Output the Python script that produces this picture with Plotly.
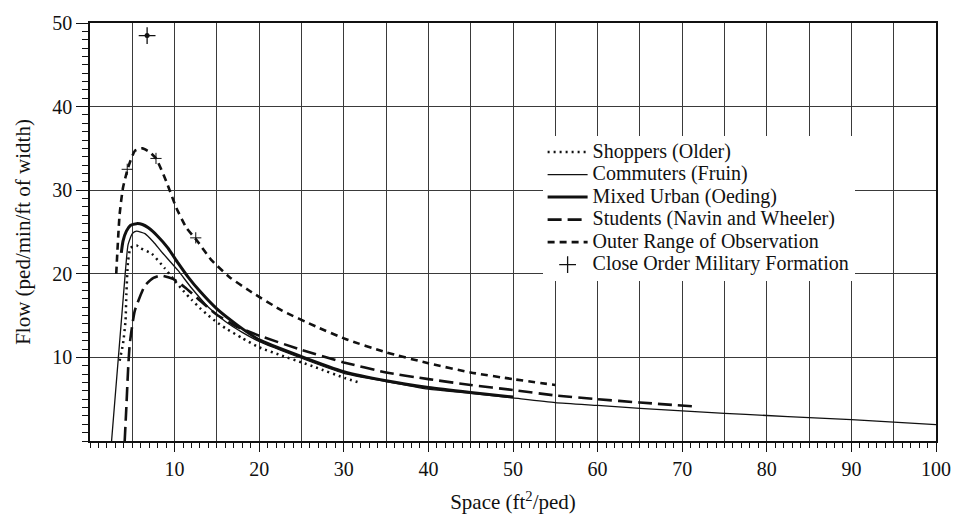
import plotly.graph_objects as go

# ---- data ----
shoppers_x = [3.5, 3.9, 4.2, 4.3, 4.5, 4.8, 5.5, 5.9, 7.3, 8.8, 10, 11, 12, 13, 14, 15, 16, 18, 20, 22.7, 25, 26.7, 30.2, 31.8]
shoppers_y = [9.6, 11.6, 14.4, 17.6, 21.5, 23.1, 23.4, 23.1, 22.4, 20.7, 19.2, 18.0, 16.9, 15.9, 15.0, 14.2, 13.5, 12.3, 11.2, 10.2, 9.4, 8.8, 7.5, 7.0]

commuters_x = [2.55, 4.2, 4.5, 5.0, 5.5, 6.5, 7.5, 8.4, 10.4, 12, 14, 16, 18, 20, 25, 30, 35, 40, 45, 50, 55, 60, 65, 70, 75, 80, 85, 90, 95, 100]
commuters_y = [0, 20.5, 23.5, 24.8, 25.1, 24.8, 23.8, 22.7, 20.4, 18.3, 16.0, 14.3, 13.0, 11.9, 9.9, 8.1, 7.1, 6.2, 5.7, 5.15, 4.6, 4.25, 3.9, 3.6, 3.3, 3.05, 2.8, 2.55, 2.25, 1.95]

mixed_x = [3.7, 3.9, 4.3, 4.8, 5.5, 6.2, 6.9, 8.0, 9.2, 10.4, 11.6, 13, 15, 17.5, 20, 25, 30, 35, 40, 45, 50]
mixed_y = [22.5, 23.9, 25.1, 25.8, 26.0, 25.9, 25.5, 24.5, 23.1, 21.3, 19.6, 17.9, 15.8, 13.8, 12.1, 10.1, 8.3, 7.2, 6.4, 5.8, 5.25]

students_x = [4.1, 4.3, 4.5, 4.7, 5.3, 6.5, 7.5, 8.4, 9.8, 11.2, 13, 15, 17.3, 20, 25, 30, 35, 40, 45, 50, 55, 60, 65, 71.2]
students_y = [0, 4.1, 8.5, 11.6, 15.6, 18.6, 19.5, 19.8, 19.4, 18.4, 16.8, 15.1, 13.7, 12.6, 10.9, 9.4, 8.2, 7.4, 6.7, 6.1, 5.45, 5.0, 4.6, 4.15]

outer_x = [3.1, 3.5, 3.9, 4.5, 5.3, 6.2, 7.0, 7.8, 9.0, 10.2, 11.4, 12.7, 14.3, 16.5, 18.8, 22.7, 26.7, 30.2, 35, 40, 45, 50, 55]
outer_y = [20, 27.1, 30.3, 32.7, 34.7, 35.0, 34.6, 33.8, 31.1, 27.9, 25.5, 23.9, 21.7, 19.6, 18.0, 15.6, 13.7, 12.2, 10.6, 9.3, 8.2, 7.4, 6.7]

outer_marks_x = [4.4, 7.8, 12.5]
outer_marks_y = [32.5, 33.8, 24.3]

military_x = [6.75]
military_y = [48.5]

x_label_vals = [10, 20, 30, 40, 50, 60, 70, 80, 90, 100]
x_label_text = ["10", "20", "30", "40", "50", "60", "70", "80", "90", "100"]
x_half_grid = [5, 15, 25, 35, 45, 55, 65, 75, 85, 95]
y_label_vals = [10, 20, 30, 40, 50]
y_label_text = ["10", "20", "30", "40", "50"]

INK = "#111111"
GRID = "#3a3a3a"
FONT = "Liberation Serif"
LEG_SIZE = 20

fig = go.Figure()

def leg(name):
    return '<span style="font-size:%dpx">%s</span>' % (LEG_SIZE, name)

def add_line(x, y, name, width, dash):
    fig.add_trace(go.Scatter(
        x=x, y=y, mode="lines", name=leg(name),
        line=dict(color=INK, width=width, dash=dash, shape="spline", smoothing=0.5),
    ))

add_line(shoppers_x, shoppers_y, "Shoppers (Older)", 2.5, "2px,4px")
add_line(commuters_x, commuters_y, "Commuters (Fruin)", 1.3, "solid")
add_line(mixed_x, mixed_y, "Mixed Urban (Oeding)", 3, "solid")
add_line(students_x, students_y, "Students (Navin and Wheeler)", 2.6, "14px,6px")
add_line(outer_x, outer_y, "Outer Range of Observation", 2.6, "7px,5px")

fig.add_trace(go.Scatter(
    x=outer_marks_x, y=outer_marks_y, mode="markers", showlegend=False,
    marker=dict(symbol="cross-thin", size=8, line=dict(color=INK, width=1)),
    hoverinfo="skip",
))

fig.add_trace(go.Scatter(
    x=military_x, y=military_y, mode="markers", name=leg("Close Order Military Formation"),
    marker=dict(symbol="cross-thin", size=12, color=INK, line=dict(color=INK, width=1.3)),
))
fig.add_trace(go.Scatter(
    x=military_x, y=military_y, mode="markers", showlegend=False,
    marker=dict(symbol="circle", size=5, color=INK),
    hoverinfo="skip",
))

# invisible helper trace so the half-step grid axis is drawn
fig.add_trace(go.Scatter(
    x=[0, 100], y=[0, 0], xaxis="x2", mode="lines", showlegend=False,
    line=dict(width=0), hoverinfo="skip",
))

fig.update_layout(
    width=963, height=527,
    margin=dict(l=90, r=23, t=20, b=86),
    paper_bgcolor="white", plot_bgcolor="white",
    font=dict(family=FONT, color=INK, size=19),
    showlegend=True,
    legend=dict(
        x=0.535, y=0.73, xanchor="left", yanchor="top",
        bgcolor="white", borderwidth=0,
        font=dict(family=FONT, size=15, color=INK),
        tracegroupgap=0, itemwidth=40,
    ),
    xaxis2=dict(
        overlaying="x", side="bottom", range=[0, 100],
        tickmode="array", tickvals=x_half_grid, showticklabels=False,
        showgrid=True, gridcolor=GRID, gridwidth=1, ticks="", showline=False,
        zeroline=False,
    ),
    xaxis=dict(
        range=[0, 100], tickmode="array", tickvals=x_label_vals, ticktext=x_label_text,
        showgrid=True, gridcolor=GRID, gridwidth=1,
        showline=True, linecolor=INK, linewidth=1.5, mirror=True,
        ticks="outside", ticklen=9, tickcolor=INK, tickwidth=1,
        minor=dict(dtick=1, ticks="outside", ticklen=5, tickcolor=INK, showgrid=False),
        tickfont=dict(family=FONT, size=20, color=INK),
        title=dict(text="Space (ft<sup>2</sup>/ped)", font=dict(family=FONT, size=21, color=INK), standoff=16),
        zeroline=False,
    ),
    yaxis=dict(
        range=[0, 50], tickmode="array", tickvals=y_label_vals, ticktext=y_label_text,
        showgrid=True, gridcolor=GRID, gridwidth=1,
        showline=True, linecolor=INK, linewidth=1.5, mirror=True,
        ticks="outside", ticklen=12, tickcolor=INK, tickwidth=1,
        minor=dict(dtick=1, ticks="outside", ticklen=6, tickcolor=INK, showgrid=False),
        tickfont=dict(family=FONT, size=20, color=INK),
        title=dict(text="Flow (ped/min/ft of width)", font=dict(family=FONT, size=21, color=INK), standoff=16),
        zeroline=False,
    ),
)

fig.write_html("out.html")
